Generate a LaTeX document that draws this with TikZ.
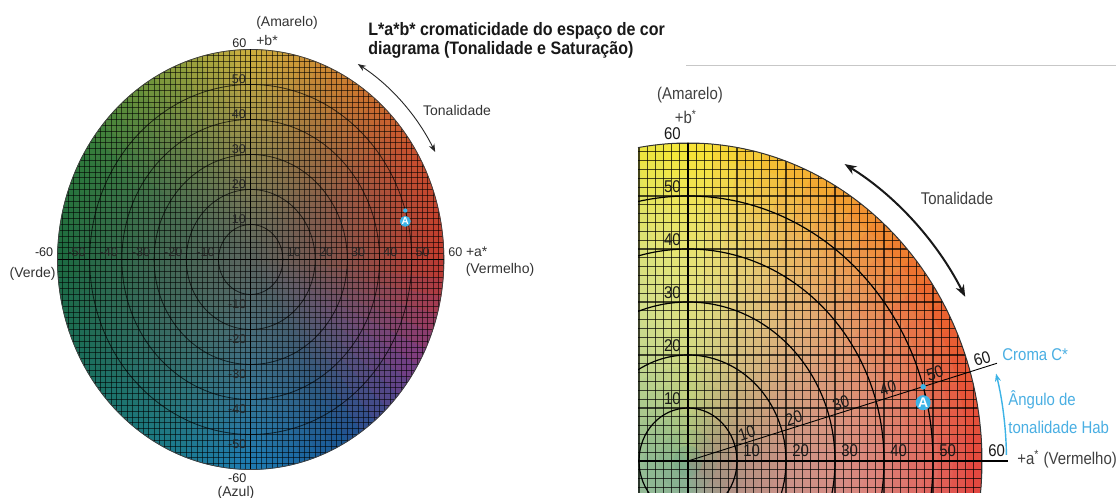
\documentclass[tikz,border=0pt]{standalone}
\usepackage{fontspec}
\setmainfont{Liberation Sans}
\newfontfamily\narrowf[FakeStretch=0.88]{Liberation Sans}
\newfontfamily\titlef[FakeStretch=0.89]{Liberation Sans}
\usetikzlibrary{arrows.meta}
% left palette
\definecolor{L0}{HTML}{C43A2C}
\definecolor{L1}{HTML}{CA4E2E}
\definecolor{L2}{HTML}{CE7C2E}
\definecolor{L3}{HTML}{D0B23E}
\definecolor{L4}{HTML}{78983A}
\definecolor{L5}{HTML}{2E7A3A}
\definecolor{L6}{HTML}{1C6A40}
\definecolor{L7}{HTML}{1A6E5C}
\definecolor{L8}{HTML}{1A7A82}
\definecolor{L9}{HTML}{1C7CB4}
\definecolor{L10}{HTML}{1A5492}
\definecolor{L11}{HTML}{7A3C86}
\definecolor{LC}{HTML}{5A645E}
% right palette
\definecolor{R0}{HTML}{E4443A}
\definecolor{R1}{HTML}{EC602A}
\definecolor{R2}{HTML}{F4A02C}
\definecolor{R3}{HTML}{F8E834}
\definecolor{R4}{HTML}{CADC52}
\definecolor{R5}{HTML}{A8CC60}
\definecolor{R6}{HTML}{8CBC70}
\definecolor{R7}{HTML}{86B478}
\definecolor{R8}{HTML}{86B080}
\definecolor{R9}{HTML}{90A888}
\definecolor{R10}{HTML}{C07070}
\definecolor{R11}{HTML}{DC4048}
\definecolor{RC}{HTML}{7CAA8C}
\definecolor{acol}{HTML}{3DB3E6}
\definecolor{btxt}{HTML}{4AAFE3}
\tikzset{
  lgridline/.style={line width=0.45pt, black, opacity=0.58},
  lringline/.style={line width=0.4pt, black, opacity=0.7},
  ledgeline/.style={line width=0.4pt, black!75},
  laxisline/.style={line width=0.5pt, black},
  rgridline/.style={line width=0.6pt, black, opacity=0.7},
  rringline/.style={line width=0.6pt, black},
  redgeline/.style={line width=0.5pt, black!80},
  raxisline/.style={line width=0.9pt, black},
  chromaline/.style={line width=0.45pt, black},
  lnum/.style={font=\fontsize{6.3}{7}\selectfont, inner sep=0, text=black!85},
  ltxt/.style={font=\fontsize{7}{8}\selectfont, inner sep=0, text=black!80},
  rnum/.style={font=\narrowf\fontsize{8.5}{9}\selectfont, inner sep=0, text=black!90},
  rtxt/.style={font=\narrowf\fontsize{8.5}{9}\selectfont, inner sep=0, text=black!75},
  btext/.style={font=\narrowf\fontsize{8.5}{9}\selectfont, inner sep=0, text=btxt},
  titletxt/.style={font=\titlef\bfseries\fontsize{9}{10}\selectfont, inner sep=0, text=black!90, anchor=west},
  ltonarrow/.style={line width=0.45pt, black!85, {Stealth[length=4pt,width=3pt]}-{Stealth[length=4pt,width=3pt]}},
  rtonarrow/.style={line width=1pt, black!90, {Stealth[length=6pt,width=4.5pt]}-{Stealth[length=6pt,width=4.5pt]}},
  huearrow/.style={line width=0.7pt, acol, -{Stealth[length=4pt,width=3pt]}},
  ldot/.style={circle, fill=acol, inner sep=0, minimum size=2.2pt},
  lmark/.style={circle, fill=acol, inner sep=0, minimum size=5.5pt, text=white, font=\bfseries\fontsize{5}{5}\selectfont},
  rdot/.style={circle, fill=acol, inner sep=0, minimum size=2.8pt},
  rmark/.style={circle, fill=acol, inner sep=0, minimum size=7.5pt, text=white, font=\bfseries\fontsize{7}{7}\selectfont},
}
\begin{document}
\begin{tikzpicture}[x=0.5pt,y=0.5pt]
\useasboundingbox (0,0) rectangle (1116,498);
\fill[white] (0,0) rectangle (1116,498);

% ================= LEFT DIAGRAM =================
\begin{scope}[shift={(250.7,238.5)}, xscale=3.22, yscale=3.5]
  \foreach \k in {0,...,71}{
    \pgfmathsetmacro\angA{5*\k}
    \pgfmathsetmacro\angB{5*\k+5}
    \pgfmathsetmacro\thm{5*\k+2.5}
    \pgfmathtruncatemacro\hi{floor(\thm/30)}
    \pgfmathtruncatemacro\hj{mod(\hi+1,12)}
    \pgfmathtruncatemacro\tq{round((\thm-30*\hi)/30*100)}
    \colorlet{hc}{L\hj!\tq!L\hi}
    \foreach \m in {0,...,19}{
      \pgfmathsetmacro\ra{max(3*\m,0.02)}
      \pgfmathsetmacro\rb{3*\m+3}
      \pgfmathsetmacro\rmid{3*\m+1.5}
      \pgfmathtruncatemacro\sv{round(100*(\rmid/60)^1.1)}
      \colorlet{cc}{hc!\sv!LC}
      \path[fill=cc, draw=cc, line width=0.3pt]
        (\angA:\ra) arc[start angle=\angA, end angle=\angB, radius=\ra]
        -- (\angB:\rb) arc[start angle=\angB, end angle=\angA, radius=\rb] -- cycle;
    }
  }
  \begin{scope}
    \clip (0,0) circle[radius=60];
    \foreach \k in {-36,...,36}{
      \draw[lgridline] (\k/6*10,-61) -- (\k/6*10,61);
      \draw[lgridline] (-61,\k/6*10) -- (61,\k/6*10);
    }
  \end{scope}
  \foreach \r in {10,20,30,40,50} \draw[lringline] (0,0) circle[radius=\r];
  \draw[ledgeline] (0,0) circle[radius=60];
  \draw[laxisline] (-60,0) -- (60,0);
  \draw[laxisline] (0,-60) -- (0,60);
  % axis numbers
  \foreach \v in {-50,-40,-30,-20,-10}
    \node[lnum, anchor=south east] (lx\v) at (\v-1.1,0.7) {\v};
  \foreach \v in {10,20,30,40,50}
    \node[lnum, anchor=south west] (lxp\v) at (\v+1.1,0.7) {\v};
  \foreach \v in {10,20,30,40,50}
    \node[lnum, anchor=south east] (lyp\v) at (-1.4,\v+0.2) {\v};
  \foreach \v in {-10,-20,-30,-40,-50}
    \node[lnum, anchor=north east] (ly\v) at (-1.2,\v-1.3) {\v};
  \node[lnum, anchor=south east] (ltop) at (-1.2,60.3) {60};
  \node[lnum, anchor=north east] (lbot) at (-1.2,-61) {-60};
  \node[lnum, anchor=south east] (lleft) at (-61.2,0.7) {-60};
  \node[ltxt, anchor=south west] (lright) at (61.3,0.7) {\fontsize{6.3}{7}\selectfont 60 \fontsize{7}{8}\selectfont +a*};
  % hue arrow
  \draw[ltonarrow] (59.2:65) arc[start angle=59.2, end angle=28.2, radius=65];
  % point A
  \node[ldot] (ladot) at (48,14) {};
  \node[lmark] (lamark) at (48,10.9) {A};
\end{scope}
\node[ltxt] (lbstar) at (267,457) {+b*};
\node[ltxt] (lamarelo) at (287,475) {(Amarelo)};
\node[ltxt, anchor=east] (lverde) at (56,224) {(Verde)};
\node[ltxt] (lvermelho) at (500,228) {(Vermelho)};
\node[ltxt] (lazul) at (236,5) {(Azul)};
\node[ltxt] (lton) at (457,387) {Tonalidade};
\node[titletxt] (title1) at (368,467) {L*a*b* cromaticidade do espaço de cor};
\node[titletxt] (title2) at (368,448) {diagrama (Tonalidade e Saturação)};

% separator line
\draw[line width=0.5pt, black!22] (686,432) -- (1116,432);

% ================= RIGHT DIAGRAM =================
\begin{scope}[shift={(688,37)}, xscale=4.9, yscale=5.3]
  \begin{scope}
    \clip (-10.2,-6) rectangle (70,70);
    \clip (0,0) circle[radius=60];
    \foreach \k in {0,...,71}{
      \pgfmathsetmacro\angA{5*\k}
      \pgfmathsetmacro\angB{5*\k+5}
      \pgfmathsetmacro\thm{5*\k+2.5}
      \pgfmathtruncatemacro\hi{floor(\thm/30)}
      \pgfmathtruncatemacro\hj{mod(\hi+1,12)}
      \pgfmathtruncatemacro\tq{round((\thm-30*\hi)/30*100)}
      \colorlet{hc}{R\hj!\tq!R\hi}
      \foreach \m in {0,...,19}{
        \pgfmathsetmacro\ra{max(3*\m,0.02)}
        \pgfmathsetmacro\rb{3*\m+3}
        \pgfmathsetmacro\rmid{3*\m+1.5}
        \pgfmathtruncatemacro\sv{round(100*(\rmid/60)^0.5)}
        \pgfmathtruncatemacro\wv{round(100-28*sin(180*\rmid/60))}
        \colorlet{cc}{hc!\sv!RC}
        \colorlet{cw}{cc!\wv!white}
        \path[fill=cw, draw=cw, line width=0.3pt]
          (\angA:\ra) arc[start angle=\angA, end angle=\angB, radius=\ra]
          -- (\angB:\rb) arc[start angle=\angB, end angle=\angA, radius=\rb] -- cycle;
      }
    }
    \foreach \k in {-7,...,36}
      \draw[rgridline] (\k/6*10,-7) -- (\k/6*10,61);
    \foreach \k in {-4,...,36}
      \draw[rgridline] (-11,\k/6*10) -- (61,\k/6*10);
    \foreach \r in {10,20,30,40,50} \draw[rringline] (0,0) circle[radius=\r];
  \end{scope}
  \draw[redgeline] (-5.74:60) arc[start angle=-5.74, end angle=99.79, radius=60];
  \draw[raxisline] (-10.2,0) -- (65.3,0);
  \draw[raxisline] (0,-6) -- (0,60);
  \draw[chromaline] (0,0) -- (16.3:65.7);
  % numbers
  \foreach \v in {10,20,30,40,50,60}
    \node[rnum, anchor=south west] (rx\v) at (\v+1.2,0.8) {\v};
  \foreach \v in {10,20,30,40,50,60}
    \node[rnum, anchor=south east] (ry\v) at (-1.4,\v+0.5) {\v};
  \foreach \v in {10,20,30,40,50,60}
    \node[rnum, anchor=south west, rotate=17.6, inner sep=1.3pt] (rc\v) at (16.3:\v+0.8) {\v};
  % arrows
  \draw[rtonarrow] (60.3:64.5) arc[start angle=60.3, end angle=28.7, radius=64.5];
  \draw[huearrow] (1:65) arc[start angle=1, end angle=14.7, radius=65];
  % point A
  \node[rdot] (radot) at (48,14) {};
  \node[rmark] (ramark) at (48,11) {A};
\end{scope}
\node[rtxt] (ramarelo) at (690,403) {(Amarelo)};
\node[rtxt] (rbstar) at (686,381) {+b\textsuperscript{*}};
\node[rtxt] (rton) at (957,300) {Tonalidade};
\node[rtxt, anchor=west] (rvermelho) at (1017,39) {+a\textsuperscript{*} (Vermelho)};
\node[btext, anchor=west] (rcroma) at (1002,143) {Croma C*};
\node[btext, anchor=west] (rangulo) at (1008,98) {Ângulo de};
\node[btext, anchor=west] (rtonal) at (1008,71) {tonalidade Hab};
\end{tikzpicture}
\end{document}
